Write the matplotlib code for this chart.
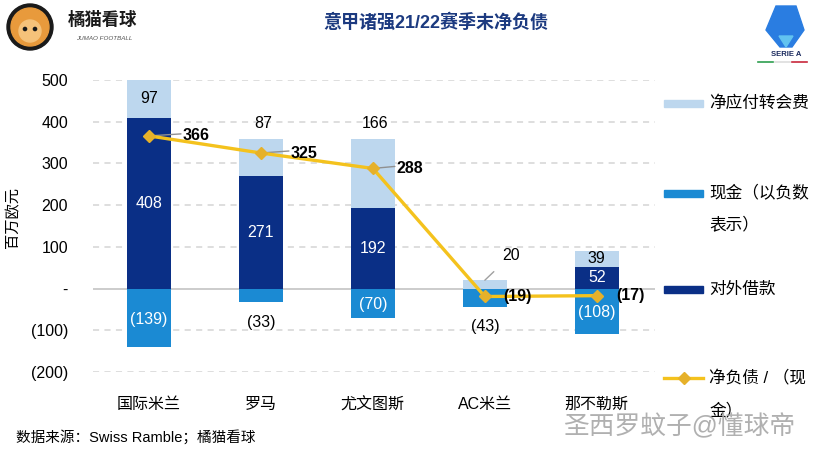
import matplotlib.pyplot as plt
from matplotlib.patches import Ellipse, Polygon, Rectangle
from matplotlib.lines import Line2D
import numpy as np

plt.rcParams['font.family'] = ['Liberation Sans', 'Noto Sans CJK SC', 'DejaVu Sans']

# data (百万欧元)
clubs = ['国际米兰', '罗马', '尤文图斯', 'AC米兰', '那不勒斯']
borrowing = [408, 271, 192, 0, 52]      # 对外借款
transfer_net = [97, 87, 166, 20, 39]    # 净应付转会费
cash = [-139, -33, -70, -43, -108]      # 现金（以负数表示）
net_debt = [366, 325, 288, -19, -17]    # 净负债 / （现金）
yticks = [500, 400, 300, 200, 100, 0, -100, -200]
ytick_labels = ['500', '400', '300', '200', '100', '-', '(100)', '(200)']

c_light = '#bdd7ee'
c_cash = '#1b8ad3'
c_dark = '#0a2f86'
c_line = '#f4c21d'
c_mark = '#e6b12a'

W, H = 816, 451
fig = plt.figure(figsize=(W / 100, H / 100), dpi=100)
fig.patch.set_facecolor('white')

def fx(px):
    return px / W

def fy(py):
    return 1 - py / H

def circle(cx, cy, r, col):
    fig.add_artist(Ellipse((fx(cx), fy(cy)), 2 * r / W, 2 * r / H, color=col,
                           transform=fig.transFigure))

ax = fig.add_axes([fx(93), fy(372), fx(655) - fx(93), fy(80) - fy(372)])
ax.set_xlim(-0.5, 4.52)
ax.set_ylim(-200, 500)

x = np.arange(len(clubs))
bw = 0.39

# gridlines
for t in yticks:
    if t == 0:
        ax.axhline(0, color='#c8c8c8', lw=1.3, zorder=1)
    else:
        ax.axhline(t, color='#d4d4d4', lw=1.1, ls=(0, (4, 3.5)), zorder=1)

ax.bar(x, borrowing, bw, color=c_dark, zorder=2)
ax.bar(x, transfer_net, bw, bottom=borrowing, color=c_light, zorder=2)
ax.bar(x, cash, bw, color=c_cash, zorder=2)

ax.plot(x, net_debt, color=c_line, lw=2.4, marker='D', ms=6.5,
        mfc=c_mark, mec=c_mark, zorder=4)

for s in ax.spines.values():
    s.set_visible(False)
ax.set_yticks(yticks)
ax.set_yticklabels(ytick_labels, fontsize=11.5)
ax.set_xticks(x)
ax.set_xticklabels(clubs, fontsize=11.5)
ax.tick_params(axis='both', length=0)
ax.tick_params(axis='y', pad=18)
ax.tick_params(axis='x', pad=18)
ax.set_ylabel('百万欧元', fontsize=11)
ax.yaxis.set_label_coords(fx(20 - 93) * W / (655 - 93), 0.53)

fs = 11.5
# borrowing labels (white, inside)
for i, v in enumerate(borrowing):
    if v > 0:
        ax.text(x[i], v / 2, str(v), ha='center', va='center', color='white',
                fontsize=fs, zorder=5)

# transfer labels
inside_top = [True, False, False, False, True]
for i, v in enumerate(transfer_net):
    top = borrowing[i] + v
    if inside_top[i]:
        ax.text(x[i], borrowing[i] + v / 2, str(v), ha='center', va='center',
                color='black', fontsize=fs, zorder=5)
    elif i == 3:
        ax.annotate(str(v), xy=(x[i], top), xytext=(x[i] + 0.23, 79),
                    ha='center', va='center', fontsize=fs, color='black',
                    arrowprops=dict(arrowstyle='-', color='#a0a0a0', lw=1,
                                    shrinkA=6, shrinkB=0), zorder=5)
    else:
        ax.text(x[i] + 0.02, top + 38, str(v), ha='center', va='center',
                color='black', fontsize=fs, zorder=5)

# cash labels
cash_inside = [True, False, True, False, True]
for i, v in enumerate(cash):
    lab = '(%d)' % -v
    if cash_inside[i]:
        ax.text(x[i], v / 2 - 4, lab, ha='center', va='center', color='white',
                fontsize=fs, zorder=5)
    else:
        ax.text(x[i], v - 48, lab, ha='center', va='center', color='black',
                fontsize=fs, zorder=5)

# net debt labels
offsets = [34, 30, 24, 18, 19]
for i, v in enumerate(net_debt):
    lab = str(v) if v >= 0 else '(%d)' % -v
    ax.annotate(lab, xy=(x[i], v), xytext=(offsets[i], 0),
                textcoords='offset pixels', ha='left', va='center',
                fontsize=fs, fontweight='bold', color='black', zorder=6)
    if v > 0:
        ax.annotate('', xy=(x[i], v), xytext=(offsets[i] - 2, 2),
                    textcoords='offset pixels',
                    arrowprops=dict(arrowstyle='-', color='#909090', lw=1,
                                    shrinkA=0, shrinkB=4), zorder=3)

# legend (drawn by hand)
leg_items = [
    ('patch', c_light, 103, ['净应付转会费']),
    ('patch', c_cash, 193, ['现金（以负数', '表示）']),
    ('patch', c_dark, 289, ['对外借款']),
    ('line', c_line, 378, ['净负债 / （现', '金）']),
]
for kind, col, py, lines in leg_items:
    if kind == 'patch':
        fig.add_artist(Rectangle((fx(664), fy(py + 3.5)), fx(703) - fx(664),
                                 fy(py - 3.5) - fy(py + 3.5), color=col,
                                 transform=fig.transFigure))
    else:
        fig.add_artist(Line2D([fx(664), fx(703)], [fy(py), fy(py)], color=col,
                              lw=2.4, transform=fig.transFigure))
        fig.add_artist(Line2D([fx(683.5)], [fy(py)], marker='D', ms=6,
                              color=c_mark, transform=fig.transFigure))
    for k, t in enumerate(lines):
        fig.text(fx(709), fy(py + k * 32), t, fontsize=12, ha='left',
                 va='center', color='black')

# title
fig.text(fx(436), fy(22), '意甲诸强21/22赛季末净负债', fontsize=13,
         fontweight='bold', color='#1c3a80', ha='center', va='center')

# source
fig.text(fx(16), fy(437), '数据来源：Swiss Ramble；橘猫看球', fontsize=10.5,
         ha='left', va='center', color='black')

# watermark
fig.text(fx(563), fy(427), '圣西罗蚊子@懂球帝', fontsize=18.5, ha='left',
         va='center', color='#a8a8a8', alpha=0.9)

# brand logo (top-left)
circle(30, 27, 23, '#1a1a1a')
circle(30, 27, 19, '#e89a3c')
circle(30, 31, 11, '#f5c27a')
circle(25, 29, 1.6, '#1a1a1a')
circle(35, 29, 1.6, '#1a1a1a')
fig.text(fx(68), fy(19), '橘猫看球', fontsize=12.5, fontweight='bold',
         ha='left', va='center', color='#1a1a1a')
fig.text(fx(76), fy(38), 'JUMAO FOOTBALL', fontsize=4.5, style='italic',
         ha='left', va='center', color='#555555')

# Serie A logo (top-right)
fig.add_artist(Polygon([(fx(776), fy(6)), (fx(796), fy(6)), (fx(804), fy(30)),
                        (fx(792), fy(47)), (fx(780), fy(47)), (fx(766), fy(30))],
                       closed=True, color='#2a7de1', transform=fig.transFigure))
fig.add_artist(Polygon([(fx(779), fy(36)), (fx(793), fy(36)), (fx(786), fy(47))],
                       closed=True, color='#62c3f0', transform=fig.transFigure))
fig.text(fx(786), fy(54), 'SERIE A', fontsize=5.5, fontweight='bold',
         ha='center', va='center', color='#1b2a5e')
fig.add_artist(Line2D([fx(758), fx(773)], [fy(62), fy(62)], color='#2e9e4f',
                      lw=1.2, transform=fig.transFigure))
fig.add_artist(Line2D([fx(775), fx(790)], [fy(62), fy(62)], color='#dddddd',
                      lw=1.2, transform=fig.transFigure))
fig.add_artist(Line2D([fx(792), fx(807)], [fy(62), fy(62)], color='#c8283c',
                      lw=1.2, transform=fig.transFigure))

fig.savefig('out.png', dpi=100)
